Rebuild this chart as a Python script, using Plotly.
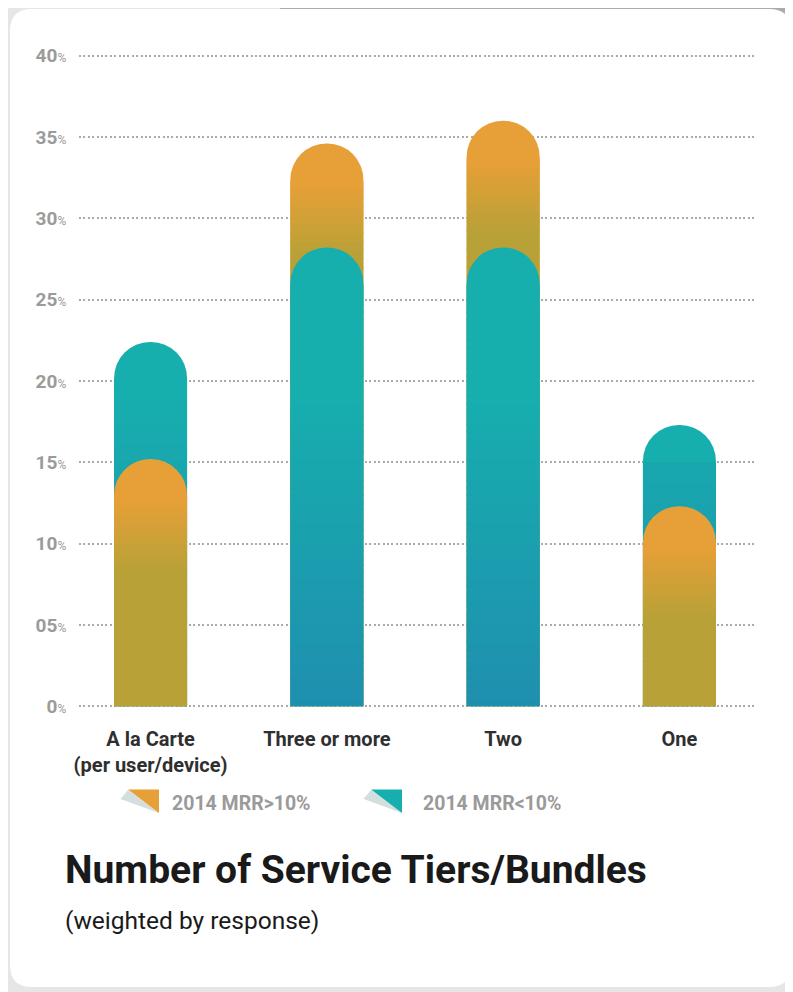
import plotly.graph_objects as go

# ---------------- data ----------------
categories = ["A la Carte<br>(per user/device)", "Three or more", "Two", "One"]
mrr_above_10 = [15.2, 34.6, 36.0, 12.3]   # 2014 MRR>10%  (orange)
mrr_below_10 = [22.4, 28.2, 28.2, 17.3]   # 2014 MRR<10%  (teal)
series_names = ["2014 MRR>10%", "2014 MRR<10%"]
y_tick_vals = [0, 5, 10, 15, 20, 25, 30, 35, 40]
y_tick_nums = ["0", "05", "10", "15", "20", "25", "30", "35", "40"]

# ---------------- styling ----------------
OFF = 8                       # page body margin of the written html
W_FIG, H_FIG = 793 - OFF, 992 - OFF
L, T, PW, PH = 79 - OFF, 54 - OFF, 678, 654
ORANGE_TOP, ORANGE_BOTTOM = "#E6A037", "#B8A137"
TEAL_TOP, TEAL_BOTTOM = "#17AEAE", "#1F8FAF"
BAR_W = 0.414
N_SLICES = 60
CAP = 2.3  # top zone (in % units) left to the rounded full bar
X_RANGE = [-0.406, 3.44]


def hex2rgb(h):
    h = h.lstrip("#")
    return tuple(int(h[i:i + 2], 16) for i in (0, 2, 4))


def lerp(c1, c2, t):
    t = max(0.0, min(1.0, t))
    a, b = hex2rgb(c1), hex2rgb(c2)
    return "rgb(%d,%d,%d)" % tuple(round(a[i] + (b[i] - a[i]) * t) for i in range(3))


def color_at(series, y, v):
    if series == 0:  # orange: gradient measured from the bar top
        d = v - y
        return lerp(ORANGE_TOP, ORANGE_BOTTOM, (d - 2.6) / (6.8 - 2.6))
    return lerp(TEAL_TOP, TEAL_BOTTOM, (19.0 - y) / 19.0)


values = [mrr_above_10, mrr_below_10]
fig = go.Figure()

for layer, xa in (("back", "x"), ("front", "x2")):
    pick = []
    for i in range(len(categories)):
        a, b = values[0][i], values[1][i]
        if layer == "back":
            pick.append(0 if a >= b else 1)
        else:
            pick.append(1 if a >= b else 0)
    # full bar with rounded top, in the top colour
    fig.add_trace(go.Bar(
        x=categories, y=[values[s][i] for i, s in enumerate(pick)], width=BAR_W,
        xaxis=xa,
        marker=dict(color=[ORANGE_TOP if s == 0 else TEAL_TOP for s in pick],
                    line=dict(width=0), cornerradius="50%"),
        showlegend=False, hoverinfo="skip",
    ))
    # gradient slices below the rounded top
    for k in range(N_SLICES):
        bases, heights, colors = [], [], []
        for i, s in enumerate(pick):
            v = values[s][i]
            lo = (v - CAP) * k / N_SLICES
            hi_true = (v - CAP) * (k + 1) / N_SLICES
            hi = hi_true + (0.1 if k < N_SLICES - 1 else 0)
            bases.append(lo)
            heights.append(hi - lo)
            colors.append(color_at(s, (lo + hi_true) / 2, v))
        fig.add_trace(go.Bar(
            x=categories, y=heights, base=bases, width=BAR_W, xaxis=xa,
            marker=dict(color=colors, line=dict(width=0), cornerradius=0),
            showlegend=False, hoverinfo="skip",
        ))


def px(x):
    return (x - OFF - L) / PW


def py(y):
    return 1 - (y - OFF - T) / PH


def path(points):
    return "M " + " L ".join("%.5f,%.5f" % (px(x), py(y)) for x, y in points) + " Z"


def rounded_rect(x0, y0, x1, y1, r):
    p = lambda x, y: "%.5f,%.5f" % (px(x), py(y))
    return ("M " + p(x0 + r, y0) + " L " + p(x1 - r, y0) + " Q " + p(x1, y0) + " " + p(x1, y0 + r)
            + " L " + p(x1, y1 - r) + " Q " + p(x1, y1) + " " + p(x1 - r, y1)
            + " L " + p(x0 + r, y1) + " Q " + p(x0, y1) + " " + p(x0, y1 - r)
            + " L " + p(x0, y0 + r) + " Q " + p(x0, y0) + " " + p(x0 + r, y0) + " Z")


shapes = [
    dict(type="path", xref="paper", yref="paper", layer="below",
         path=path([(280, 8), (793, 8), (793, 40), (280, 40)]),
         fillcolor="#ababab", line=dict(width=0)),
    dict(type="path", xref="paper", yref="paper", layer="below",
         path=rounded_rect(10, 9, 791, 987, 22),
         fillcolor="white", line=dict(width=0)),
]

# legend icons (folded corner triangles)
legend_items = [(128, ORANGE_TOP, series_names[0], 170), (371, TEAL_TOP, series_names[1], 421)]
for x0, col, name, tx in legend_items:
    shapes.append(dict(type="path", xref="paper", yref="paper",
                       path=path([(x0, 790), (x0 - 7.5, 799), (x0 + 31, 813)]),
                       fillcolor="#d3dede", line=dict(width=0)))
    shapes.append(dict(type="path", xref="paper", yref="paper",
                       path=path([(x0, 789.5), (x0 + 31, 789.5), (x0 + 31, 813)]),
                       fillcolor=col, line=dict(width=0)))

annotations = []
for x0, col, name, tx in legend_items:
    annotations.append(dict(xref="paper", yref="paper", x=px(tx), y=py(803),
                            xanchor="left", yanchor="middle", showarrow=False,
                            text="<b>" + name + "</b>",
                            font=dict(family="Roboto", size=19.5, color="#9a9a9a")))
annotations.append(dict(xref="paper", yref="paper", x=px(63), y=py(870),
                        xanchor="left", yanchor="middle", showarrow=False,
                        text="<b>Number of Service Tiers/Bundles</b>",
                        font=dict(family="Roboto", size=39, color="#1a1a1a")))
annotations.append(dict(xref="paper", yref="paper", x=px(63), y=py(920),
                        xanchor="left", yanchor="middle", showarrow=False,
                        text="(weighted by response)",
                        font=dict(family="Roboto", size=24.5, color="#1a1a1a")))

y_tick_text = ["<b>%s</b><span style='font-size:12px'>%%</span>" % n for n in y_tick_nums]

fig.update_layout(
    width=W_FIG, height=H_FIG,
    margin=dict(l=L, r=W_FIG - L - PW, t=T, b=H_FIG - T - PH, autoexpand=False),
    paper_bgcolor="#e6e6e6", plot_bgcolor="rgba(0,0,0,0)",
    barmode="overlay", showlegend=False,
    shapes=shapes, annotations=annotations,
    xaxis=dict(type="category", range=X_RANGE, categoryorder="array", categoryarray=categories,
               showgrid=False, zeroline=False,
               showline=False, ticks="outside", ticklen=13, tickcolor="rgba(0,0,0,0)",
               tickfont=dict(family="Roboto", size=20, color="#2f2f2f", weight="bold")),
    xaxis2=dict(type="category", range=X_RANGE, categoryorder="array", categoryarray=categories,
                overlaying="x", visible=False, showgrid=False, zeroline=False),
    yaxis=dict(range=[-0.1, 40.1], tickvals=y_tick_vals, ticktext=y_tick_text,
               showgrid=True, gridcolor="#aaaaaa", gridwidth=2, griddash="2px,2.4px",
               zeroline=False, showline=False, ticks="outside", ticklen=8,
               tickcolor="rgba(0,0,0,0)",
               tickfont=dict(family="Roboto", size=19, color="#9b9b9b")),
)

fig.write_html("out.html")
